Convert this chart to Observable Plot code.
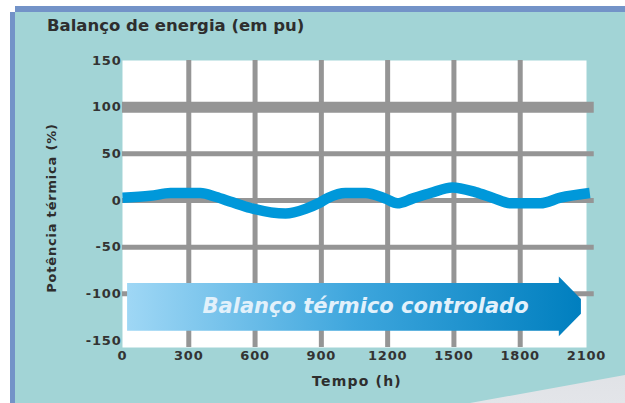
<!DOCTYPE html>
<html>
<head>
<meta charset="utf-8">
<script src="https://cdn.jsdelivr.net/npm/d3@7"></script>
<script src="https://cdn.jsdelivr.net/npm/@observablehq/plot@0.6"></script>
<style>
  html, body { margin: 0; padding: 0; background: #ffffff; }
  #wrap { position: relative; width: 625px; height: 403px; overflow: hidden; background: #ffffff; }
  .abs { position: absolute; }
  .txt { font-family: "DejaVu Sans", sans-serif; font-weight: bold; color: #2e2e2e; white-space: nowrap; }
  #chart g[aria-label*="axis"] text { letter-spacing: 0.8px; }
</style>
</head>
<body>
<div id="wrap">
  <div class="abs" style="left:15px;top:6px;width:610px;height:6px;background:#7393c8"></div>
  <div class="abs" style="left:10px;top:12px;width:5px;height:391px;background:#7393c8"></div>
  <div class="abs" style="left:15px;top:12px;width:610px;height:391px;background:#a2d4d6"></div>
  <div class="abs" style="left:0;top:0;width:625px;height:403px;background:linear-gradient(to bottom,#bcc0c6,#e3e5e9);clip-path:polygon(470px 403px,625px 375px,625px 403px)"></div>
  <div id="chart" class="abs" style="left:0;top:0"></div>
  <div id="title" class="abs txt" style="left:47px;top:16px;font-size:16.5px;"></div>
  <div id="ylab" class="abs txt" style="left:51px;top:208px;font-size:13px;letter-spacing:0.8px;transform:translate(-50%,-50%) rotate(-90deg);"></div>
  <div id="xlab" class="abs txt" style="left:357px;top:381px;font-size:14px;letter-spacing:1.2px;transform:translate(-50%,-50%);"></div>
</div>
<script>
// ---- texts ----
const titleText = "Balanço de energia (em pu)";
const yLabelText = "Potência térmica (%)";
const xLabelText = "Tempo (h)";
const arrowText = "Balanço térmico controlado";

// ---- ticks ----
const xTicks = [0, 300, 600, 900, 1200, 1500, 1800, 2100];
const yTicks = [-150, -100, -50, 0, 50, 100, 150];
const gridX = [300, 600, 900, 1200, 1500, 1800];
const gridY = [-100, -50, 0, 50];
const gridYStrong = [100];
const gridXStart = 0;
const gridXEnd = 2135;

// ---- series ----
const timeH = [0, 127, 217, 353, 421, 498, 579, 738, 828, 887, 932, 1009, 1100, 1190, 1244, 1312, 1394, 1493, 1597, 1674, 1756, 1891, 1982, 2115];
const balance = [3, 5, 8, 8, 4, -2, -8, -14, -9, -3, 3, 8, 8, 2, -3, 2, 8, 14, 9, 3, -3, -3, 3, 8];

// ---- annotation arrow (band in data units) ----
const arrowX = [23, 1977, 1977, 2077];
const arrowLow = [-140, -140, -146, -122];
const arrowHigh = [-89, -89, -82, -106];
const arrowLabelX = [1100];
const arrowLabelY = [-113];

const series = timeH.map((t, i) => ({t, v: balance[i]}));
const arrow = arrowX.map((x, i) => ({x, lo: arrowLow[i], hi: arrowHigh[i]}));
const labelData = arrowLabelX.map((x, i) => ({x, y: arrowLabelY[i], s: arrowText}));

document.getElementById("title").textContent = titleText;
document.getElementById("ylab").textContent = yLabelText;
document.getElementById("xlab").textContent = xLabelText;

const grid = "#959595";
const svg = Plot.plot({
  width: 625,
  height: 403,
  marginLeft: 122,
  marginRight: 39,
  marginTop: 60,
  marginBottom: 56,
  style: {fontFamily: "DejaVu Sans, sans-serif", fontSize: "13px", fontWeight: "bold", color: "#333333", background: "transparent", overflow: "visible"},
  x: {domain: [0, 2100]},
  y: {domain: [-157.5, 150]},
  marks: [
    Plot.frame({fill: "white", stroke: "none"}),
    Plot.ruleX(gridX, {x: d => d, stroke: grid, strokeWidth: 5}),
    Plot.ruleY(gridY, {y: d => d, x1: () => gridXStart, x2: () => gridXEnd, stroke: grid, strokeWidth: 5}),
    Plot.ruleY(gridYStrong, {y: d => d, x1: () => gridXStart, x2: () => gridXEnd, stroke: grid, strokeWidth: 11}),
    Plot.line(series, {x: "t", y: "v", stroke: "#0098da", strokeWidth: 10.5, curve: "monotone-x", strokeLinecap: "butt"}),
    Plot.area(arrow, {x1: "x", y1: "lo", y2: "hi", fill: "url(#arrowGrad)", curve: "linear"}),
    Plot.text(labelData, {x: "x", y: "y", text: "s", fill: "#e2f1fb", fontSize: 21, fontStyle: "italic", fontWeight: "bold", fontFamily: "DejaVu Sans, sans-serif"}),
    Plot.axisY({ticks: yTicks, tickSize: 0, tickPadding: 1, label: null, tickFormat: d => String(d)}),
    Plot.axisX({ticks: xTicks, tickSize: 0, tickPadding: 3, label: null, tickFormat: d => String(d)})
  ]
});

const defs = d3.select(svg).insert("defs", ":first-child");
const lg = defs.append("linearGradient").attr("id", "arrowGrad").attr("x1", "0").attr("x2", "1").attr("y1", "0").attr("y2", "0");
lg.append("stop").attr("offset", "0").attr("stop-color", "#9fd7f5");
lg.append("stop").attr("offset", "0.5").attr("stop-color", "#3ea6dd");
lg.append("stop").attr("offset", "1").attr("stop-color", "#007fbf");

document.getElementById("chart").appendChild(svg);
</script>
</body>
</html>
